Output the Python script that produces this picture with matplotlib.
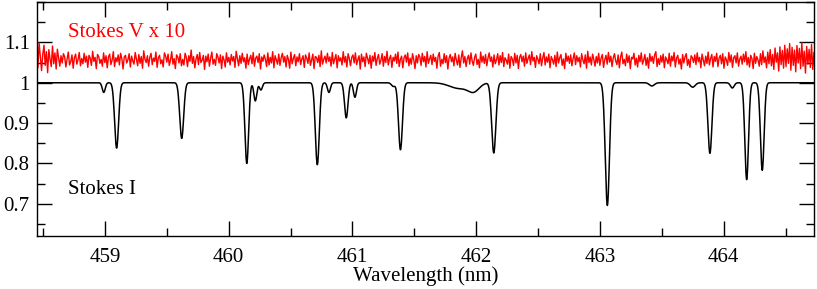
import numpy as np
import matplotlib
matplotlib.use('Agg')
import matplotlib.pyplot as plt
from matplotlib.ticker import MultipleLocator

# absorption lines: centre (nm), depth, gaussian sigma (nm)
line_centre = [458.99, 459.094, 459.62, 460.146, 460.215, 460.26, 460.716, 460.81,
               460.95, 461.02, 461.33, 461.388, 461.86, 461.98, 462.142, 463.06,
               463.42, 463.75, 463.889, 464.07, 464.186, 464.312]
line_depth = [0.024, 0.162, 0.138, 0.200, 0.045, 0.018, 0.203, 0.024,
              0.087, 0.036, 0.009, 0.166, 0.014, 0.020, 0.174, 0.304,
              0.008, 0.011, 0.175, 0.013, 0.240, 0.217]
line_sigma = [0.012, 0.016, 0.016, 0.015, 0.012, 0.012, 0.016, 0.012,
              0.014, 0.012, 0.015, 0.016, 0.075, 0.045, 0.017, 0.017,
              0.020, 0.020, 0.016, 0.015, 0.015, 0.015]

# Stokes V x 10, offset to 1.055, in units of 0.001 (read as the noisy band)
v_level = 1.055
v_dev = [
    32, -18, 44, 8, -25, 15, 38, -12, 22, -30, 27, 3, -15, 36, -8, 19, -21, 28, 6, -14,
    12, -6, 17, 9, -16, 4, 21, -11, -3, 14, -19, 7, 16, -9, 2, 20, -13, 5, -8, 18,
    -4, 11, -17, 13, 6, -12, 23, -2, 8, -20, 15, 10, -7, 3, -14, 19, -5, 12, -18, 9,
    16, -10, 1, 22, -15, 7, -3, 14, -11, 18, 5, -21, 9, 13, -6, 2, 17, -16, 11, -1,
    -9, 20, 4, -13, 15, -7, 10, -19, 24, 3, -5, 12, -14, 8, 18, -10, 6, -2, 21, -17,
    7, 13, -8, 2, -16, 19, 11, -4, 16, -12, 1, 22, -9, 5, -20, 14, 9, -6, 17, -13,
    3, -11, 18, 8, -15, 12, -2, 26, -7, 10, -18, 4, 15, -10, 20, -5, 1, 13, -22, 11,
    -3, 16, -14, 6, 21, -9, 3, -12, 17, 9, -6, 14, -20, 11, 2, -16, 19, -4, 8, -11,
    15, -1, 10, -17, 23, 5, -13, 12, -7, 18, -3, 7, -19, 16, -10, 4, 13, -8, 20, -14,
    6, 11, -5, 17, -21, 9, -2, 14, 3, -15, 19, -11, 8, -6, 22, -18, 12, 1, -9, 16,
    -12, 7, 18, -4, 10, -16, 13, 2, -19, 21, -8, 5, 15, -13, 9, -3, 17, -10, 4, 12,
    -17, 14, 6, -7, 19, -12, 1, 16, -20, 10, 8, -5, 13, -15, 24, -9, 3, 11, -6, 18,
    -2, 9, -14, 20, -8, 4, 15, -18, 12, -1, 7, -11, 22, -4, 10, -16, 17, 5, -13, 8,
    14, -6, 19, -10, 2, 12, -21, 16, -3, 9, -15, 18, 6, -8, 13, -19, 11, -2, 20, -12,
    5, 15, -9, 1, 17, -14, 10, -5, 23, -11, 4, 13, -17, 8, -1, 16, -7, 21, -15, 3,
    11, -18, 7, 14, -4, 19, -13, 6, -9, 17, 2, -20, 12, -6, 15, 9, -12, 18, -3, 10,
    -16, 22, -7, 4, 13, -10, 16, -2, 8, -19, 11, 20, -14, 3, -8, 17, -5, 12, -21, 6,
    15, -3, 9, -13, 18, 1, -11, 14, -17, 7, 24, -6, 10, -15, 5, 13, -9, 19, -1, -12,
    8, 16, -10, 3, -18, 21, -4, 11, -7, 15, -13, 6, 19, -2, 9, -16, 14, -8, 2, 17,
    -11, 12, -5, 20, -15, 7, 1, -9, 16, -19, 10, 4, -12, 18, -6, 13, -20, 8, 15, -3,
    11, -14, 19, -7, 5, 14, -10, 22, -1, 8, -17, 12, 3, -8, 17, -13, 6, 20, -11, 9,
    -4, 16, -18, 10, 2, -9, 13, -15, 21, -6, 7, 15, -12, 4, -20, 18, -2, 11, -7, 14,
    -13, 5, 19, -10, 12, -3, 8, -16, 17, 1, -8, 14, -19, 23, -5, 9, -11, 16, 3, -14,
    10, -6, 18, -12, 6, 15, -17, 2, 13, -9, 20, -4, 11, -15, 7, 17, -1, -10, 14, -18,
    9, 21, -8, 3, -13, 16, -5, 12, -20, 8, 4, 18, -11, 6, -16, 13, -3, 19, -9, 1,
    15, -12, 7, -19, 17, -2, 10, -7, 14, 22, -15, 5, -10, 12, -4, 16, -18, 9, 2, -8,
    18, -14, 11, -1, 20, -16, 6, 13, -9, 4, -21, 15, -6, 9, 17, -12, 3, -17, 12, 7,
    -5, 14, -10, 19, -3, 8, -18, 16, 1, -13, 11, -7, 21, -11, 5, 15, -16, 10, -2, 18,
    -15, 6, 13, -8, 17, -19, 9, 2, -12, 20, -4, 14, -17, 7, 12, -6, 19, -14, 4, 11,
    -9, 16, -3, 22, -11, 8, -16, 13, 5, -20, 18, -7, 10, 1, -14, 17, -10, 24, -5, 9,
    -18, 21, -8, 27, -13, 15, -22, 31, -4, 19, -26, 34, -10, 25, -19, 38, -15, 29, -7, 42,
    -24, 33, -12, 26, -28, 37, -6, 30, -20, 44, -14, 23, -31, 35, -9, 28, -17, 40, -22, 20]

xmin, xmax = 458.448, 464.73
ymin, ymax = 0.621, 1.2

plt.rcParams['font.family'] = ['Liberation Serif', 'DejaVu Serif']
plt.rcParams['font.size'] = 15

wl = np.arange(xmin, xmax, 0.002)
stokes_i = np.ones_like(wl)
for c, d, s in zip(line_centre, line_depth, line_sigma):
    stokes_i -= d * np.exp(-0.5 * ((wl - c) / s) ** 2)

wl_v = np.linspace(xmin, xmax, len(v_dev))
stokes_v = v_level + np.array(v_dev) / 1000.0

fig = plt.figure(figsize=(8.17, 2.89), dpi=100)
ax = fig.add_axes([0.0449, 0.1844, 0.9514, 0.8086])

ax.plot(wl_v, stokes_v, color='red', lw=1.0)
ax.plot(wl, stokes_i, color='black', lw=1.1)

ax.text(458.70, 1.125, 'Stokes V x 10', color='red', va='center', ha='left')
ax.text(458.70, 0.735, 'Stokes I', color='black', va='center', ha='left')

ax.set_xlim(xmin, xmax)
ax.set_ylim(ymin, ymax)
ax.xaxis.set_major_locator(MultipleLocator(1))
ax.xaxis.set_minor_locator(MultipleLocator(0.5))
ax.yaxis.set_minor_locator(MultipleLocator(0.05))
ax.set_yticks([0.7, 0.8, 0.9, 1.0, 1.1])
ax.set_yticklabels(['0.7', '0.8', '0.9', '1', '1.1'])

ax.tick_params(which='both', direction='in', top=True, right=True, width=1.0)
ax.tick_params(which='major', length=11)
ax.tick_params(which='minor', length=5.5)
ax.tick_params(axis='x', which='major', pad=8.5)
ax.tick_params(axis='y', which='major', pad=5)
for sp in ax.spines.values():
    sp.set_linewidth(1.0)

ax.set_xlabel('Wavelength (nm)', labelpad=0)

fig.savefig('out.png', dpi=100)
